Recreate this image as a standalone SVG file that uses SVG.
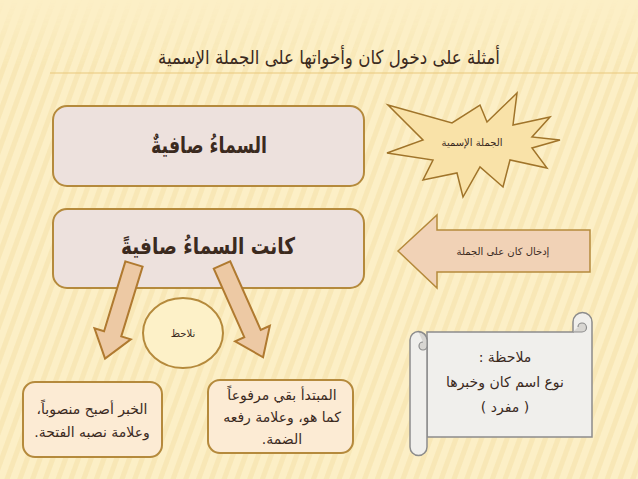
<svg xmlns="http://www.w3.org/2000/svg" width="638" height="479" viewBox="0 0 638 479">
<style>
.t{font-family:"DejaVu Sans",sans-serif;fill:#3b2a1e;text-anchor:middle}
.box{fill:#ede1dd;stroke:#b58a3c;stroke-width:2}
.note{fill:#fcebd4;stroke:#b58a3c;stroke-width:2}
.arr{fill:#edc9a4;stroke:#b07a30;stroke-width:2;stroke-linejoin:miter}
</style>
<defs>
<pattern id="diag" width="12" height="12" patternUnits="userSpaceOnUse" patternTransform="rotate(20)">
<rect width="5" height="12" fill="#f1d996" opacity="0.35"/>
</pattern>
<linearGradient id="fade" x1="0" y1="0" x2="0" y2="1">
<stop offset="0" stop-color="#fff" stop-opacity="0"/>
<stop offset="0.14" stop-color="#fff" stop-opacity="1"/>
<stop offset="1" stop-color="#fff" stop-opacity="1"/>
</linearGradient>
<mask id="m"><rect width="638" height="479" fill="url(#fade)"/></mask>
</defs>
<rect width="638" height="479" fill="#fcefc6"/>
<rect width="638" height="479" fill="url(#diag)" mask="url(#m)"/>
<line x1="50" y1="73" x2="638" y2="73" stroke="#e9c87c" stroke-width="1"/>
<text class="t" x="329" y="64" font-size="19" direction="rtl" textLength="342" lengthAdjust="spacingAndGlyphs">أمثلة على دخول كان وأخواتها على الجملة الإسمية</text>

<g id="box1">
<rect class="box" x="53" y="106" width="311" height="80" rx="14"/>
<text class="t" x="209" y="153" font-size="23" font-weight="bold" direction="rtl" textLength="116" lengthAdjust="spacingAndGlyphs">السماءُ صافيةٌ</text>
</g>
<g id="box2">
<rect class="box" x="53" y="209" width="311" height="79" rx="14"/>
<text class="t" x="208" y="254" font-size="23" font-weight="bold" direction="rtl" textLength="174" lengthAdjust="spacingAndGlyphs">كانت السماءُ صافيةً</text>
</g>

<g id="star">
<polygon points="388,105 452,123 480,105 487,122 517,93 513,125 550,117 532,137 560,140 532,148 547,168 510,160 503,187 480,167 463,197 457,173 423,180 433,160 387,153 423,140" fill="#f9e2a8" stroke="#a0742a" stroke-width="1.5" stroke-linejoin="miter"/>
<text class="t" x="472" y="146" font-size="10" direction="rtl">الجملة الإسمية</text>
</g>

<g id="leftArrow">
<polygon points="398,251 437,215 437,230 590,230 590,272 437,272 437,288" fill="#f1d2b6" stroke="#b58a3c" stroke-width="1.5"/>
<text class="t" x="503" y="255" font-size="10" direction="rtl">إدخال كان على الجملة</text>
</g>

<g id="connectors">
<g transform="translate(134,264) rotate(17)">
<polygon class="arr" points="-9,0 9,0 9,73 19,73 0,99 -19,73 -9,73"/>
</g>
<g transform="translate(222,265) rotate(-24)">
<polygon class="arr" points="-9,0 9,0 9,75 19,75 0,101 -19,75 -9,75"/>
</g>
</g>

<g id="observe">
<ellipse cx="183" cy="333" rx="40" ry="35" fill="#fdf1c8" stroke="#b58a3c" stroke-width="2"/>
<text class="t" x="183" y="337" font-size="10" direction="rtl">نلاحظ</text>
</g>

<g id="noteLeft">
<rect class="note" x="23" y="382" width="139" height="75" rx="12"/>
<text class="t" x="92" y="414" font-size="14" direction="rtl">الخبر أصبح منصوباً،</text>
<text class="t" x="92" y="437" font-size="14" direction="rtl">وعلامة نصبه الفتحة.</text>
</g>

<g id="noteRight">
<rect class="note" x="208" y="380" width="145" height="73" rx="12"/>
<text class="t" x="282" y="400" font-size="14" direction="rtl">المبتدأ بقي مرفوعاً</text>
<text class="t" x="282" y="422" font-size="14" direction="rtl">كما هو، وعلامة رفعه</text>
<text class="t" x="282" y="444" font-size="14" direction="rtl">الضمة.</text>
</g>

<g id="scroll">
<path d="M427,332 H573 V322 A9.5,9.5 0 0 1 592,322 V437 H427 Z" fill="#f0efec" stroke="#8c8c8c" stroke-width="1.5"/>
<path d="M573,332 H582 A4.5,4.5 0 0 0 582,323 A4,4 0 0 0 578,327" fill="#d8d6d2" stroke="#8c8c8c" stroke-width="1.2"/>
<path d="M410,340 A8.5,8.5 0 0 1 427,340 V447 A8.5,8.5 0 0 1 410,447 Z" fill="#f0efec" stroke="#8c8c8c" stroke-width="1.5"/>
<path d="M418.5,332 A8.5,8.5 0 0 1 427,340 V346 A4,4 0 0 1 419,346 A4,4 0 0 1 423,342" fill="#d8d6d2" stroke="#8c8c8c" stroke-width="1.2"/>
<text class="t" x="505" y="362" font-size="14" direction="rtl">ملاحظة :</text>
<text class="t" x="505" y="387" font-size="14" direction="rtl">نوع اسم كان وخبرها</text>
<text class="t" x="505" y="412" font-size="14" direction="rtl">( مفرد )</text>
</g>
</svg>
